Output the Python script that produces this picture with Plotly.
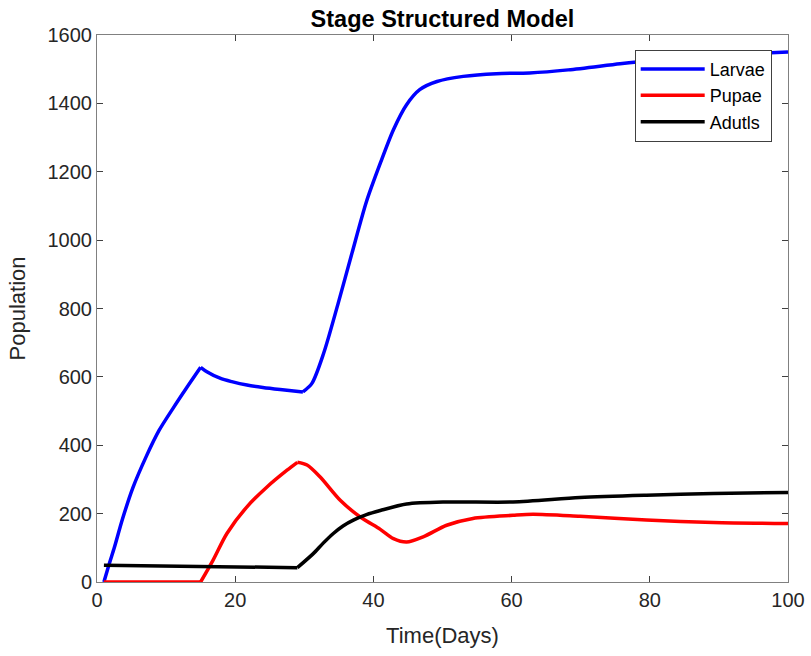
import plotly.graph_objects as go

# ---- data ----
larvae_t = [1, 1.8, 2.5, 3.7, 5.2, 7.1, 9.0, 11.0, 12.9, 15, 15.9, 17.8,
            19.5, 21.7, 24, 26.5, 29.8, 31.1, 32.8, 34.9, 36.9, 39.0, 41.0, 42.9, 44.8, 46.7,
            49.2, 53, 57.8, 62.6, 68.2, 75.7, 80, 85, 90, 96.7, 100]
larvae_v = [0, 55, 100, 185, 276, 366, 444, 508, 566, 628, 615, 596,
            586, 576, 569, 563, 556, 581, 669, 815, 962, 1113, 1225, 1323, 1396, 1440,
            1464, 1479, 1487, 1489, 1498, 1516, 1525, 1533, 1540, 1547, 1550]

pupae_t = [1, 15, 16.8, 18.8, 21.7, 24.6, 27.5, 29.0, 30.4, 32.3, 35.2, 38.1, 41.0, 42.9,
           44.8, 47.2, 50.6, 54.4, 60.2, 63.1, 69.9, 79.5, 89.2, 100]
pupae_v = [0, 0, 64, 142, 220, 278, 327, 350, 342, 307, 239, 190, 154, 127,
           117, 132, 166, 186, 195, 198, 192, 181, 174, 171]

adults_t = [1, 29, 31.3, 32.7, 34.2, 35.6, 37.1, 39, 41, 44.8, 50.6, 60.2, 69.9, 79.5, 89.2, 100]
adults_v = [49, 42, 83, 113, 142, 164, 181, 197, 209, 228, 234, 234, 247, 254, 259, 262]

# days where a curve has a sharp corner (model stage switches)
larvae_corners = [15, 29.8]
pupae_corners = [15, 29.0]
adults_corners = [29]

series_names = ["Larvae", "Pupae", "Adutls"]
x_ticks = [0, 20, 40, 60, 80, 100]
y_ticks = [0, 200, 400, 600, 800, 1000, 1200, 1400, 1600]

FONT = "Liberation Sans, Arial, Helvetica, sans-serif"
TXT = "#262626"


def split(t, v, corners):
    segs, cur_t, cur_v = [], [], []
    for a, b in zip(t, v):
        cur_t.append(a)
        cur_v.append(b)
        if a in corners:
            segs.append((cur_t, cur_v))
            cur_t, cur_v = [a], [b]
    if len(cur_t) > 1:
        segs.append((cur_t, cur_v))
    return segs


fig = go.Figure()
for name, t, v, corners, c in [
        (series_names[0], larvae_t, larvae_v, larvae_corners, "#0000ff"),
        (series_names[1], pupae_t, pupae_v, pupae_corners, "#ff0000"),
        (series_names[2], adults_t, adults_v, adults_corners, "#000000")]:
    for i, (st, sv) in enumerate(split(t, v, corners)):
        fig.add_trace(go.Scatter(x=st, y=sv, mode="lines", name=name,
                                 legendgroup=name, showlegend=(i == 0),
                                 line=dict(color=c, width=3.5, shape="spline",
                                           smoothing=0.8)))

axis_common = dict(showgrid=False, zeroline=False, showline=True, linecolor="#808080",
                   linewidth=1, mirror="ticks", ticks="inside", ticklen=6,
                   tickcolor="#404040", tickwidth=1, automargin=False,
                   tickfont=dict(family=FONT, size=20, color=TXT))

fig.update_xaxes(range=[0, 100], tickvals=x_ticks,
                 title=dict(text="Time(Days)", font=dict(family=FONT, size=22, color=TXT),
                            standoff=17),
                 **axis_common)
fig.update_yaxes(range=[0, 1600], tickvals=y_ticks,
                 title=dict(text="Population", font=dict(family=FONT, size=22, color=TXT),
                            standoff=15),
                 **axis_common)

fig.update_layout(
    width=811, height=656,
    margin=dict(l=97, r=23, t=35, b=74),
    paper_bgcolor="white", plot_bgcolor="white",
    title=dict(text="<b>Stage Structured Model</b>", x=0.5, xref="paper",
               y=0.972, yanchor="middle",
               font=dict(family=FONT, size=23.5, color="#000000")),
    showlegend=True,
    legend=dict(x=0.9764, xanchor="right", y=0.973, yanchor="top",
                bgcolor="white", bordercolor="#404040", borderwidth=1,
                font=dict(family=FONT, size=18, color="#000000"),
                itemwidth=64, tracegroupgap=0),
)

fig.write_html("out.html", config={"displayModeBar": False},
               post_script="document.body.style.margin='0';")
